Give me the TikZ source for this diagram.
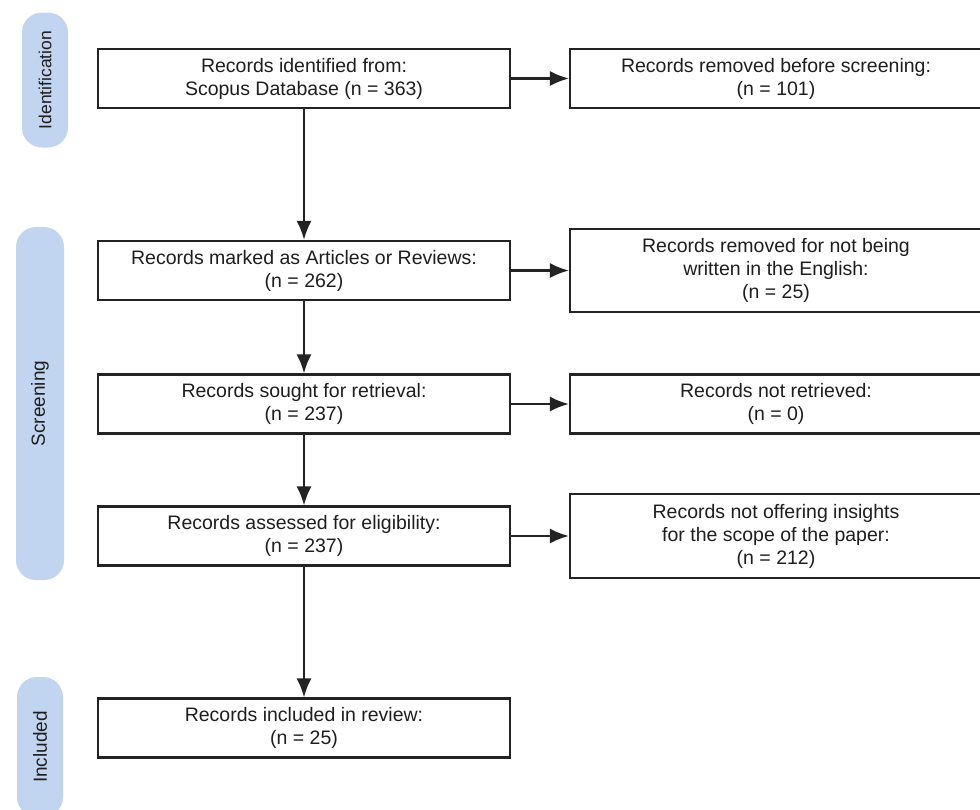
\documentclass[tikz,border=0pt]{standalone}
\usepackage{fontspec}
\setmainfont{Liberation Sans}
\usetikzlibrary{arrows.meta}
\definecolor{phaseblue}{RGB}{194,213,240}
\definecolor{boxline}{RGB}{35,35,35}
\definecolor{txt}{RGB}{30,30,30}

\begin{document}
\begin{tikzpicture}[x=1pt,y=-1pt,
  rec/.style={draw=boxline,line width=2.2pt,minimum width=412pt,minimum height=59pt,
    align=center,text=txt,inner sep=0pt,font=\fontsize{19.5}{23}\selectfont},
  phase/.style={fill=phaseblue,rounded corners=20pt,rotate=90,text=txt,inner sep=0pt,
    font=\fontsize{19}{22}\selectfont},
  arr/.style={draw=boxline,line width=2.2pt,-{Latex[length=19pt,width=15pt]}}]
\clip (0,0) rectangle (980,809);
\fill[white] (0,0) rectangle (980,809);

\node[phase,minimum width=135pt,minimum height=46pt,font=\fontsize{17.5}{20}\selectfont] (ident) at (45,80) {Identification};
\node[phase,minimum width=353pt,minimum height=48pt] (screen) at (40,403.5) {Screening};
\node[phase,minimum width=140pt,minimum height=46pt] (incl) at (40,747) {Included};

\node[rec] (id1) at (304,78.5) {Records identified from:\\Scopus Database (n = 363)};
\node[rec] (sc1) at (304,270.5) {Records marked as Articles or Reviews:\\(n = 262)};
\node[rec] (sc2) at (304,404) {Records sought for retrieval:\\(n = 237)};
\node[rec] (sc3) at (304,536) {Records assessed for eligibility:\\(n = 237)};
\node[rec] (in1) at (304,728) {Records included in review:\\(n = 25)};

\node[rec] (rm1) at (776,78.5) {Records removed before screening:\\(n = 101)};
\node[rec,minimum height=83pt] (rm2) at (776,270.5) {Records removed for not being\\written in the English:\\(n = 25)};
\node[rec] (rm3) at (776,404) {Records not retrieved:\\(n = 0)};
\node[rec,minimum height=84pt] (rm4) at (776,536) {Records not offering insights\\for the scope of the paper:\\(n = 212)};

\draw[arr] (id1) -- (sc1);
\draw[arr] (sc1) -- (sc2);
\draw[arr] (sc2) -- (sc3);
\draw[arr] (sc3) -- (in1);

\draw[arr] (id1) -- (rm1);
\draw[arr] (sc1) -- (rm2);
\draw[arr] (sc2) -- (rm3);
\draw[arr] (sc3) -- (rm4);
\end{tikzpicture}
\end{document}
